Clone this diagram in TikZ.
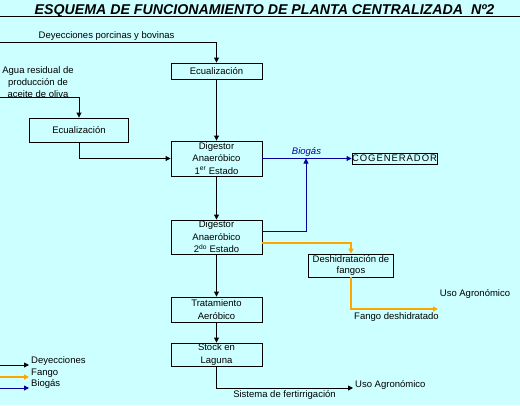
\documentclass[tikz,border=0pt]{standalone}
\usepackage{fontspec}
\setmainfont{Liberation Sans}
\usetikzlibrary{arrows.meta}
\definecolor{fondo}{RGB}{204,255,255}
\definecolor{fango}{RGB}{255,165,0}
\definecolor{biogas}{RGB}{0,0,160}

\tikzset{
  caja/.style={draw, line width=0.9pt, align=center, inner sep=0pt, font=\fontsize{9.5}{12.5}\selectfont},
  flujo/.style={line width=0.9pt, -{Triangle[length=5pt,width=5pt]}},
  rotulo/.style={font=\fontsize{9.5}{12}\selectfont, inner sep=0pt, anchor=base},
}

\begin{document}
\begin{tikzpicture}[x=1pt,y=-1pt]

        % Background and frame
        \fill[fondo] (0,0) rectangle (520,405);
        \useasboundingbox (0,0) rectangle (520,405);

        % Title
        \node[anchor=base, inner sep=0pt, font=\fontsize{14.2}{16}\selectfont\bfseries\itshape] (titulo) at (264.5,14)
            {ESQUEMA DE FUNCIONAMIENTO DE PLANTA CENTRALIZADA\ \ Nº2};
        \draw[line width=1.5pt] (0,16.5) -- (520,16.5);

        % Boxes
        \node[caja, minimum width=91pt, minimum height=16pt] (ecu1) at (216.5,71) {Ecualización};
        \node[caja, minimum width=99pt, minimum height=24pt] (ecu2) at (79,130) {Ecualización};
        \node[caja, minimum width=91pt, minimum height=35pt] (dig1) at (216.5,158.5) {Digestor\\Anaeróbico\\1\textsuperscript{er} Estado};
        \node[caja, minimum width=91pt, minimum height=34pt] (dig2) at (216.5,237) {Digestor\\Anaeróbico\\2\textsuperscript{do} Estado};
        \node[caja, minimum width=91pt, minimum height=25pt] (trat) at (216.5,309.5) {Tratamiento\\Aeróbico};
        \node[caja, minimum width=91pt, minimum height=23pt] (stock) at (216.5,354.5) {Stock en\\Laguna};
        \node[caja, minimum width=85pt, minimum height=11pt, font=\fontsize{9.5}{11}\selectfont\addfontfeature{LetterSpace=10}] (cogen) at (394.5,158.5) {COGENERADOR};
        \node[caja, minimum width=85pt, minimum height=23pt, font=\fontsize{9.5}{11}\selectfont] (deshid) at (351,265.5) {Deshidratación de\\fangos};

        % Free ends
        \coordinate (ent1) at (0,42);
        \coordinate (ent2) at (0,97);
        \coordinate (union) at (306,158.5);
        \coordinate (sal1) at (438,309);
        \coordinate (sal2) at (353,388);

        % Deyecciones
        \draw[flujo] (ent1) -| (ecu1.north);
        \draw[flujo] (ent2) -| (ecu2.north);
        \draw[flujo] (ecu1) -- (dig1);
        \draw[flujo] (ecu2.south) |- (dig1.west);
        \draw[flujo] (dig1) -- (dig2);
        \draw[flujo] (dig2) -- (trat);
        \draw[flujo] (trat) -- (stock);
        \draw[flujo] (stock.south) |- (sal2);

        % Biogas
        \draw[flujo, biogas] (dig1.east) -- (cogen.west);
        \draw[flujo, biogas] ([yshift=6pt]dig2.east) -| (union);

        % Fango
        \draw[flujo, fango, line width=1.6pt] ([yshift=-6pt]dig2.east) -| (deshid.north);
        \draw[flujo, fango, line width=1.6pt] (deshid.south) |- (sal1);

        % Labels
        \node[rotulo] (lblDey) at (106.5,38) {Deyecciones porcinas y bovinas};
        \node[inner sep=0pt, align=center, font=\fontsize{9.5}{12}\selectfont] (lblAgua) at (38,82.5) {Agua residual de\\producción de\\aceite de oliva};
        \node[rotulo, text=biogas, font=\fontsize{9.5}{12}\selectfont\itshape] (lblBio) at (306.5,154.5) {Biogás};
        \node[rotulo] (lblFango) at (396.5,319) {Fango deshidratado};
        \node[rotulo] (lblUso1) at (475,296) {Uso Agronómico};
        \node[rotulo] (lblFert) at (284.5,397) {Sistema de fertirrigación};
        \node[rotulo, anchor=base west] (lblUso2) at (355,387) {Uso Agronómico};

        % Legend
        \foreach \y/\col/\lw/\txt in {365/black/0.9pt/Deyecciones, 377/fango/1.6pt/Fango, 388/biogas/0.9pt/Biogás}
        {
            \draw[flujo, \col, line width=\lw] (0,\y) -- (29,\y);
            \node[rotulo, anchor=base west] at (31,\y-1.5) {\txt};
        }

    \end{tikzpicture}
\end{document}
